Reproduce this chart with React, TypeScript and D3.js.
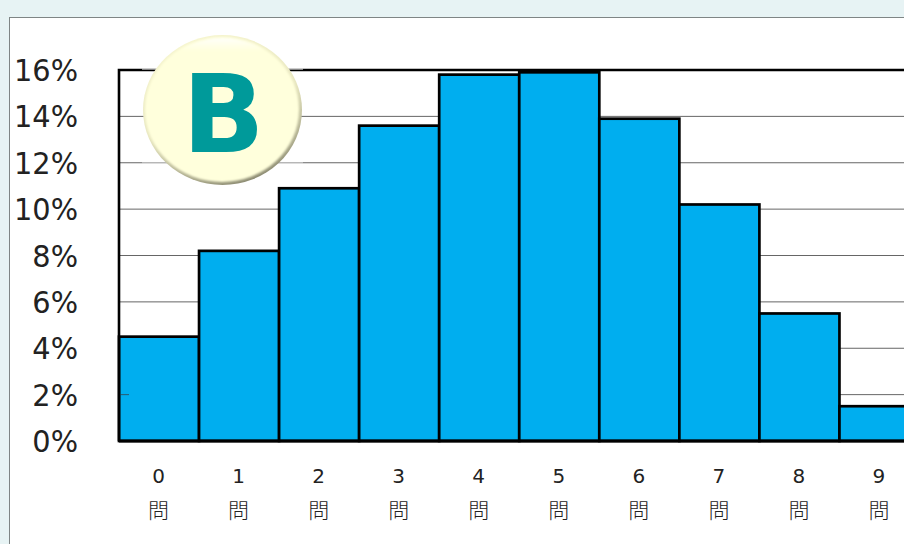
import React from "react";
import * as d3 from "d3";

const categories = ["0", "1", "2", "3", "4", "5", "6", "7", "8", "9"];
const shares = [4.5, 8.2, 10.9, 13.6, 15.8, 15.9, 13.9, 10.2, 5.5, 1.5];
const yTicks = [0, 2, 4, 6, 8, 10, 12, 14, 16];
const unitChar = "問";
const badgeLetter = "B";

const W = 904;
const H = 544;
const x = d3.scaleBand<string>().domain(categories).range([119, 919.5]);
const y = d3.scaleLinear().domain([0, 16]).range([441, 70]);
const haloLeft = 142;
const haloRight = 303;

export default function App() {
  const band = x.bandwidth();
  const cx = 222.5;
  const cy = 110;
  return (
    <svg
      width={W}
      height={H}
      viewBox={`0 0 ${W} ${H}`}
      style={{ position: "fixed", left: 0, top: 0, display: "block" }}
      fontFamily="'DejaVu Sans', Verdana, sans-serif"
    >
      <defs>
        <linearGradient id="badgeRim" x1="0.3" y1="0" x2="0.7" y2="1">
          <stop offset="0%" stopColor="#f6f5cf" />
          <stop offset="50%" stopColor="#e8e7c0" />
          <stop offset="85%" stopColor="#a9a88a" />
          <stop offset="100%" stopColor="#85846c" />
        </linearGradient>
        <linearGradient id="badgeGloss" x1="0" y1="0" x2="0" y2="1">
          <stop offset="0%" stopColor="#ffffff" stopOpacity={0.85} />
          <stop offset="9%" stopColor="#ffffff" stopOpacity={0} />
        </linearGradient>
        <filter id="soft" x="-10%" y="-10%" width="120%" height="120%">
          <feGaussianBlur stdDeviation="1.3" />
        </filter>
      </defs>

      <rect width={W} height={H} fill="#e7f3f4" />
      <rect x={9.5} y={17.5} width={W} height={H} fill="#ffffff" stroke="#7f8585" strokeWidth={1} />

      {yTicks.slice(1, -1).map((t) => (
        <line key={t} x1={119} x2={W} y1={y(t)} y2={y(t)} stroke="#666" strokeWidth={1} />
      ))}

      {shares.map((v, i) => {
        const key = categories[i];
        return (
          <rect
            key={key}
            x={x(key)}
            y={y(v)}
            width={band}
            height={y(0) - y(v)}
            fill="#00aeef"
            stroke="#000"
            strokeWidth={2.7}
          />
        );
      })}
      {/* the lowest inner tick stays visible over the first bar */}
      <line x1={119} x2={129} y1={y(2)} y2={y(2)} stroke="#2a5a70" strokeWidth={1} />

      <path d={`M119,441 V70 H${W}`} fill="none" stroke="#000" strokeWidth={2.6} />
      <line x1={119} x2={W} y1={441} y2={441} stroke="#000" strokeWidth={3} />

      {/* pale halo the badge leaves on the lines it sits over */}
      <line x1={haloLeft} x2={haloRight} y1={y(16) - 0.8} y2={y(16) - 0.8} stroke="#fff" strokeOpacity={0.75} strokeWidth={1} />
      <line x1={haloLeft} x2={haloRight} y1={y(12)} y2={y(12)} stroke="#fff" strokeOpacity={0.5} strokeWidth={1} />

      {yTicks.map((t) => (
        <text
          key={t}
          transform={`translate(78,${y(t) + 11}) scale(0.96,1)`}
          textAnchor="end"
          fontSize={30}
          fill="#222"
        >
          {t}%
        </text>
      ))}

      {categories.map((c) => {
        const mid = (x(c) as number) + band / 2 - 0.5;
        return (
          <g key={c} fill="#222" textAnchor="middle">
            <text x={mid} y={483} fontSize={20}>{c}</text>
            <text x={mid} y={518} fontSize={21} fontWeight={300} fontFamily="'Noto Sans CJK JP', sans-serif">{unitChar}</text>
          </g>
        );
      })}

      <ellipse cx={cx} cy={cy} rx={79.5} ry={75} fill="url(#badgeRim)" />
      <ellipse cx={cx - 0.5} cy={cy - 0.5} rx={77} ry={72.5} fill="#ffffdc" filter="url(#soft)" />
      <ellipse cx={cx} cy={cy} rx={76} ry={72} fill="url(#badgeGloss)" filter="url(#soft)" />
      <text x={223.5} y={152} textAnchor="middle" fontSize={108} fontWeight="bold" fill="#009a9a">
        {badgeLetter}
      </text>
    </svg>
  );
}
